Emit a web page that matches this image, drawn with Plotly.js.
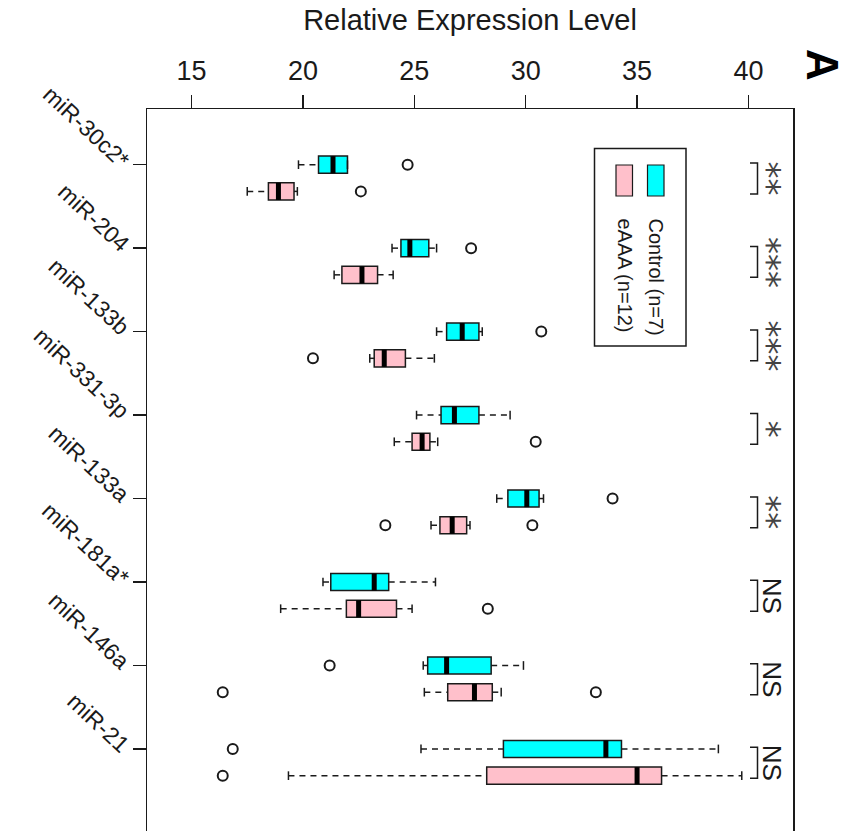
<!DOCTYPE html>
<html>
<head>
<meta charset="utf-8">
<script src="https://cdn.plot.ly/plotly-3.0.1.min.js"></script>
<style>html,body{margin:0;padding:0;background:#fff;}#chart{width:850px;height:831px;}</style>
</head>
<body>
<div id="chart"></div>
<script>
// ---------------- data ----------------
const categories = ['miR-30c2*','miR-204','miR-133b','miR-331-3p','miR-133a','miR-181a*','miR-146a','miR-21'];
const significance = ['**','***','***','*','**','NS','NS','NS'];
const xTicks = [15, 20, 25, 30, 35, 40];

// Control (n=7)
const ctrlLower = [19.8, 24.0, 26.0, 25.1, 28.7, 20.9, 25.4, 25.3];
const ctrlQ1    = [20.7, 24.4, 26.45, 26.2, 29.2, 21.25, 25.6, 29.0];
const ctrlMed   = [21.35, 24.8, 27.15, 26.8, 30.05, 23.2, 26.45, 33.6];
const ctrlQ3    = [22.0, 25.65, 27.9, 27.9, 30.6, 23.85, 28.45, 34.3];
const ctrlUpper = [22.0, 26.0, 28.05, 29.3, 30.8, 25.95, 29.9, 38.65];
const ctrlOut   = [[24.7], [27.55], [30.7], [], [33.9], [], [21.2], [16.85]];

// eAAA (n=12)
const eaaaLower = [17.5, 21.4, 23.0, 24.1, 25.75, 19.0, 25.45, 19.35];
const eaaaQ1    = [18.45, 21.75, 23.2, 24.9, 26.15, 21.95, 26.5, 28.25];
const eaaaMed   = [18.9, 22.65, 23.65, 25.35, 26.7, 22.5, 27.7, 35.0];
const eaaaQ3    = [19.6, 23.35, 24.6, 25.7, 27.35, 24.2, 28.5, 36.1];
const eaaaUpper = [19.75, 24.05, 25.9, 26.05, 27.5, 24.9, 28.9, 39.7];
const eaaaOut   = [[22.6], [], [20.45], [30.45], [23.7, 30.3], [28.3], [16.4, 33.15], [16.4]];

// ---------------- styling / geometry ----------------
const FONT = 'Liberation Sans, Arial, Helvetica, sans-serif';
const INK = '#1a1a1a';
const CYAN = '#00FFFF', PINK = '#FFC0CB';
const BOXW = 0.205, STAPLE = 0.052, OFFSET = 0.32;
const W = 850, H = 831, ML = 147, MR = 57, MT = 109, MB = 0;
const PW = W - ML - MR, PH = H - MT - MB;
const px = v => (v - ML) / PW;
const py = v => (H - MB - v) / PH;

const ctrlPos = categories.map((c, i) => i);
const eaaaPos = categories.map((c, i) => i + OFFSET);

function groupTraces(pos, lower, q1, med, q3, upper, outs, fill) {
  const box = {
    type: 'box', orientation: 'h', y: pos, q1: q1, median: med, q3: q3,
    lowerfence: q1, upperfence: q3, width: BOXW, fillcolor: fill,
    line: {color: INK, width: 1.5}, boxpoints: false, showlegend: false, hoverinfo: 'skip'
  };
  const wx = [], wy = [], sx = [], sy = [], mx = [], my = [], ox = [], oy = [];
  pos.forEach((p, i) => {
    wx.push(lower[i], q1[i], null, q3[i], upper[i], null);
    wy.push(p, p, null, p, p, null);
    sx.push(lower[i], lower[i], null, upper[i], upper[i], null);
    sy.push(p - STAPLE, p + STAPLE, null, p - STAPLE, p + STAPLE, null);
    mx.push(med[i], med[i], null);
    my.push(p - BOXW / 2, p + BOXW / 2, null);
    outs[i].forEach(o => { ox.push(o); oy.push(p); });
  });
  return [
    box,
    {type: 'scatter', mode: 'lines', x: wx, y: wy, line: {color: INK, width: 1.5, dash: '6px,5px'}, showlegend: false, hoverinfo: 'skip'},
    {type: 'scatter', mode: 'lines', x: sx, y: sy, line: {color: INK, width: 1.5}, showlegend: false, hoverinfo: 'skip'},
    {type: 'scatter', mode: 'lines', x: mx, y: my, line: {color: '#000', width: 5}, showlegend: false, hoverinfo: 'skip'},
    {type: 'scatter', mode: 'markers', x: ox, y: oy, marker: {symbol: 'circle-open', size: 10, color: INK, line: {width: 2, color: INK}}, showlegend: false, hoverinfo: 'skip'}
  ];
}

const data = [].concat(
  groupTraces(ctrlPos, ctrlLower, ctrlQ1, ctrlMed, ctrlQ3, ctrlUpper, ctrlOut, CYAN),
  groupTraces(eaaaPos, eaaaLower, eaaaQ1, eaaaMed, eaaaQ3, eaaaUpper, eaaaOut, PINK)
);

// significance brackets + labels
const shapes = [];
const annotations = [];
categories.forEach((c, i) => {
  const y0 = i - 0.02, y1 = i + 0.35;
  const x0 = px(750), x1 = px(757.5);
  shapes.push({type: 'path', xref: 'paper', yref: 'y',
    path: `M ${x0},${y0} L ${x1},${y0} L ${x1},${y1} L ${x0},${y1}`,
    line: {color: INK, width: 1.5}});
  const isStar = significance[i] !== 'NS';
  annotations.push({
    xref: 'paper', yref: 'y', x: px(isStar ? 768 : 772), y: i + 0.165,
    text: significance[i], textangle: 90, showarrow: false,
    xanchor: 'center', yanchor: 'middle',
    font: isStar ? {family: 'DejaVu Sans, sans-serif', size: 34, color: '#444'}
                 : {family: FONT, size: 26, color: INK}
  });
});

// custom rotated legend
shapes.push({type: 'rect', xref: 'paper', yref: 'paper', x0: px(594.5), x1: px(686), y0: py(148.5), y1: py(346), line: {color: INK, width: 1.5}, fillcolor: 'rgba(0,0,0,0)'});
shapes.push({type: 'rect', xref: 'paper', yref: 'paper', x0: px(647.5), x1: px(664), y0: py(165), y1: py(196), line: {color: INK, width: 1.2}, fillcolor: CYAN});
shapes.push({type: 'rect', xref: 'paper', yref: 'paper', x0: px(616), x1: px(632.5), y0: py(165), y1: py(196), line: {color: INK, width: 1.2}, fillcolor: PINK});
annotations.push({xref: 'paper', yref: 'paper', x: px(656), y: py(216), text: 'Control (n=7)', textangle: 90, showarrow: false, xanchor: 'center', yanchor: 'top', font: {family: FONT, size: 20, color: INK}});
annotations.push({xref: 'paper', yref: 'paper', x: px(624.5), y: py(216), text: 'eAAA (n=12)', textangle: 90, showarrow: false, xanchor: 'center', yanchor: 'top', font: {family: FONT, size: 20, color: INK}});

// panel letter
annotations.push({xref: 'paper', yref: 'paper', x: px(822), y: py(65), text: '<b>A</b>', textangle: 90, showarrow: false, xanchor: 'center', yanchor: 'middle', font: {family: FONT, size: 44, color: '#000'}});

const layout = {
  width: W, height: H,
  margin: {l: ML, r: MR, t: MT, b: MB, pad: 0},
  paper_bgcolor: '#fff', plot_bgcolor: '#fff',
  showlegend: false,
  font: {family: FONT, color: INK},
  xaxis: {
    side: 'top', range: [13, 42], tickvals: xTicks, ticktext: xTicks.map(String),
    ticks: 'outside', ticklen: 13, tickwidth: 1.5, tickcolor: INK, ticklabelstandoff: 4,
    showline: true, linewidth: 1.5, linecolor: INK, mirror: false,
    showgrid: false, zeroline: false, automargin: false,
    tickfont: {family: FONT, size: 27, color: INK},
    title: {text: 'Relative Expression Level', font: {family: FONT, size: 29, color: INK}, standoff: 16}
  },
  yaxis: {
    range: [7.983, -0.667], tickvals: ctrlPos, ticktext: categories, tickangle: 43,
    ticks: 'outside', ticklen: 13, tickwidth: 1.5, tickcolor: INK,
    showline: true, linewidth: 1.5, linecolor: INK, mirror: true,
    showgrid: false, zeroline: false, automargin: false,
    tickfont: {family: FONT, size: 23, color: INK}
  },
  shapes: shapes,
  annotations: annotations
};

Plotly.newPlot('chart', data, layout, {displayModeBar: false, staticPlot: true});
</script>
</body>
</html>
